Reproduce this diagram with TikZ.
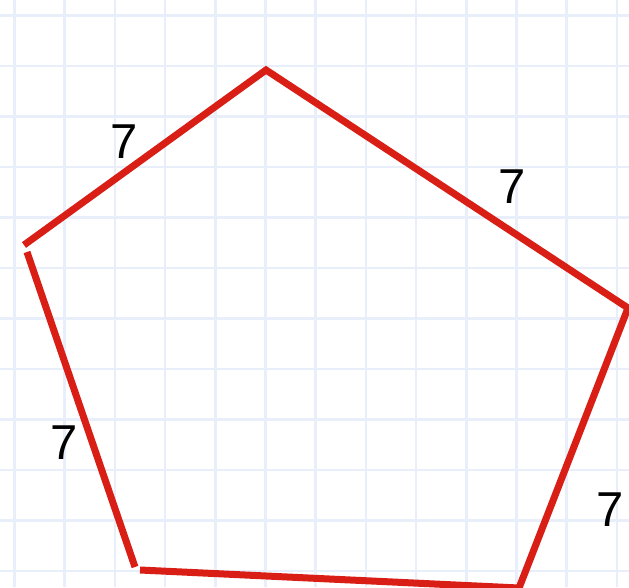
\documentclass[tikz,border=0pt]{standalone}
\usepackage{fontspec}
\setmainfont{Liberation Sans}
\definecolor{gridc}{RGB}{232,238,250}
\definecolor{edgec}{RGB}{217,30,22}
\begin{document}
\begin{tikzpicture}[x=1pt,y=-1pt,
  gridline/.style={draw=gridc,line width=2.5pt},
  edge/.style={draw=edgec,line width=7pt,line join=miter},
  lab/.style={inner sep=0pt,font=\fontsize{49}{49}\selectfont}]
\useasboundingbox (0,0) rectangle (629,587);
\fill[white] (0,0) rectangle (629,587);
\foreach \k in {0,...,12} \draw[gridline] ({14.5+50.2*\k},0) -- ({14.5+50.2*\k},587);
\foreach \k in {0,...,11} \draw[gridline] (0,{15.5+50.5*\k}) -- (629,{15.5+50.5*\k});
\coordinate (L) at (24,245);
\coordinate (T) at (266,70);
\coordinate (R) at (628,308);
\coordinate (BR) at (519,588);
\coordinate (BL) at (140,570);
\coordinate (BLb) at (135,567);
\coordinate (Lb) at (27,252);
\draw[edge] (L) -- (T) -- (R) -- (BR) -- (BL);
\draw[edge] (BLb) -- (Lb);
\node[lab] (a) at (124,142) {7};
\node[lab] (b) at (512,187) {7};
\node[lab] (c) at (64,443) {7};
\node[lab] (d) at (610,510) {7};
\end{tikzpicture}
\end{document}
